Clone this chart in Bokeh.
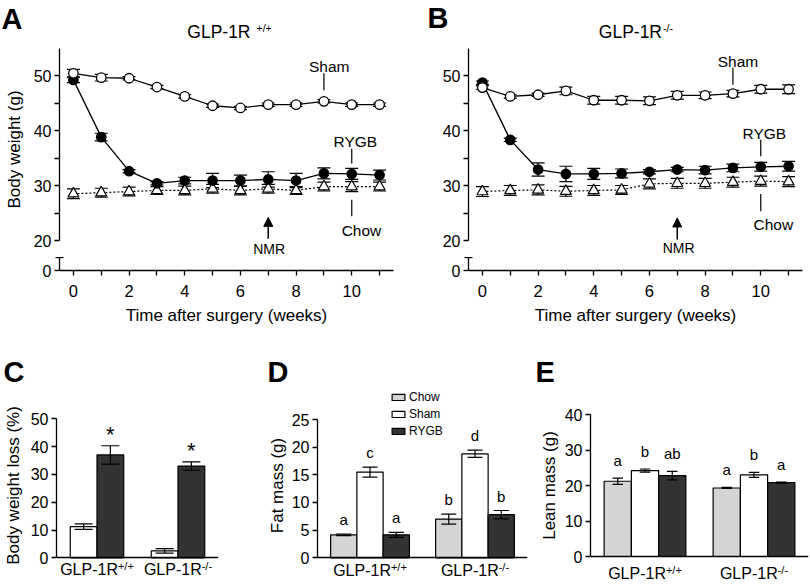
from bokeh.plotting import figure
from bokeh.layouts import column, row
from bokeh.models import (Range1d, FactorRange, FixedTicker, CustomJSTickFormatter,
                          ColumnDataSource, Whisker, TeeHead, Arrow, NormalHead,
                          LabelSet, Legend, LegendItem)
from bokeh.transform import dodge
from bokeh.core.properties import value
from bokeh.embed import file_html
from bokeh.resources import INLINE

FONT = "Liberation Sans"

# ---------------- data: panels A / B (body weight, g) ----------------
weeks = [0, 1, 2, 3, 4, 5, 6, 7, 8, 9, 10, 11]
x_major_ticks = [0, 2, 4, 6, 8, 10]
x_minor_ticks = [1, 3, 5, 7, 9, 11]
bw_major_ticks = [20, 30, 40, 50]
bw_minor_ticks = [25, 35, 45]

a_sham = [50.4, 49.6, 49.5, 47.9, 46.2, 44.5, 44.1, 44.7, 44.7, 45.3, 44.7, 44.7]
a_sham_err = [0.7, 0.6, 0.3, 0.3, 0.3, 0.3, 0.3, 0.3, 0.3, 0.3, 0.3, 0.3]
a_rygb = [49.2, 38.8, 32.6, 30.4, 30.9, 30.9, 30.9, 31.1, 30.9, 32.2, 32.1, 31.9]
a_rygb_err = [0.5, 0.7, 0.3, 0.3, 0.6, 1.3, 1.0, 1.4, 1.3, 1.0, 1.0, 0.9]
a_chow = [28.5, 28.7, 28.9, 29.1, 29.1, 29.4, 29.1, 29.4, 29.1, 29.8, 29.8, 29.8]
a_chow_err = [0.9, 0.8, 0.8, 0.7, 0.8, 0.8, 0.8, 0.8, 0.7, 0.8, 0.9, 0.8]

b_sham = [47.8, 46.2, 46.5, 47.2, 45.5, 45.5, 45.4, 46.4, 46.4, 46.7, 47.5, 47.5]
b_sham_err = [0.3, 0.3, 0.3, 0.7, 0.7, 0.7, 0.7, 0.7, 0.6, 0.6, 0.7, 0.8]
b_rygb = [48.7, 38.3, 32.9, 32.1, 32.1, 32.2, 32.5, 32.9, 32.8, 33.2, 33.4, 33.5]
b_rygb_err = [0.3, 0.3, 1.2, 1.4, 1.0, 0.8, 0.4, 0.4, 0.7, 0.7, 0.8, 0.9]
b_chow = [28.9, 29.1, 29.2, 28.95, 29.1, 29.2, 30.3, 30.4, 30.4, 30.6, 30.8, 30.7]
b_chow_err = [0.9, 0.9, 0.9, 0.9, 0.9, 0.8, 0.9, 0.9, 0.9, 0.9, 0.9, 0.9]

# call-out annotations (week, grams)
callout_names = ["Sham", "RYGB", "Chow"]
a_callout_x = [9, 10, 10]
a_callout_y0 = [47.3, 34.0, 24.4]
a_callout_y1 = [50.4, 36.7, 27.4]
a_label_x = [9.19, 10.13, 10.35]
a_label_y = [50.6, 37.0, 20.9]
a_nmr = (7, 20.3, 24.2, 7.03, 17.6)     # x, arrow tail, arrow tip, label x, label y

b_callout_x = [9, 10, 10]
b_callout_y0 = [48.3, 35.3, 25.3]
b_callout_y1 = [51.4, 38.3, 28.45]
b_label_x = [9.18, 10.13, 10.45]
b_label_y = [51.6, 38.5, 22.0]
b_nmr = (7, 20.2, 24.1, 7.05, 17.65)

# ---------------- data: panels C / D / E ----------------
groups = ["GLP-1R+/+", "GLP-1R-/-"]
cat_main = ["GLP-1R", "GLP-1R"]
cat_sup = ["+/+", "-/-"]

c_sham = [11.2, 2.5]
c_sham_err = [1.0, 0.8]
c_rygb = [37.0, 33.0]
c_rygb_err = [3.3, 1.5]
c_stars = ["*", "*"]
c_ticks = [0, 10, 20, 30, 40, 50]

d_chow = [4.15, 7.0]
d_chow_err = [0.15, 0.9]
d_sham = [15.5, 18.8]
d_sham_err = [0.9, 0.65]
d_rygb = [4.15, 7.8]
d_rygb_err = [0.45, 0.75]
d_chow_let = ["a", "b"]
d_sham_let = ["c", "d"]
d_rygb_let = ["a", "b"]
d_ticks = [0, 5, 10, 15, 20, 25]

e_chow = [21.2, 19.3]
e_chow_err = [0.9, 0.15]
e_sham = [24.2, 23.0]
e_sham_err = [0.45, 0.7]
e_rygb = [22.8, 20.8]
e_rygb_err = [1.2, 0.15]
e_chow_let = ["a", "a"]
e_sham_let = ["b", "b"]
e_rygb_let = ["ab", "a"]
e_ticks = [0, 10, 20, 30, 40]

CHOW_FILL = "#d4d4d4"
SHAM_FILL = "#ffffff"
RYGB_FILL = "#333333"

# ---------------- layout geometry (pixels) ----------------
HDR1_H, UP_H, LO_H = 41, 216, 71
HDR2_H, BAR_H = 60, 197
A_W, A_BL, A_BR = 410, 59, 17
B_W, B_BL, B_BR = 400, 58, 8
C_W, C_BL, C_BR = 262, 55, 44
D_W, D_BL, D_BR = 273, 55, 8
E_W, E_BL, E_BR = 275, 55, 2
PX_PER_G = 5.5          # panels A/B vertical scale
Y20_PAGE = 240          # page y of the 20 g tick

ARIAL_W = {"G": .778, "L": .556, "P": .667, "-": .333, "1": .556, "R": .722,
           "+": .584, "/": .278, " ": .278}


def text_w(s, size):
    return sum(ARIAL_W.get(ch, .556) for ch in s) * size


def style_axis(ax, tick_out=5, label_size="17px", standoff=3, label_standoff=5,
               tick_size="16px"):
    ax.axis_line_color = "black"
    ax.axis_line_width = 1.3
    ax.major_tick_line_color = "black"
    ax.major_tick_line_width = 1.3
    ax.minor_tick_line_color = "black"
    ax.minor_tick_line_width = 1.3
    ax.major_tick_in = 0
    ax.major_tick_out = tick_out
    ax.minor_tick_in = 0
    ax.minor_tick_out = tick_out
    ax.major_label_text_font = FONT
    ax.major_label_text_font_size = tick_size
    ax.major_label_text_color = "black"
    ax.major_label_standoff = standoff
    ax.axis_label_text_font = FONT
    ax.axis_label_text_font_size = label_size
    ax.axis_label_text_font_style = "normal"
    ax.axis_label_text_color = "black"
    ax.axis_label_standoff = label_standoff


def clean(p):
    p.grid.visible = False
    p.outline_line_color = None
    p.background_fill_color = "white"
    p.border_fill_color = "white"


def header(width, height, items):
    h = figure(width=width, height=height, x_range=Range1d(0, width),
               y_range=Range1d(height, 0), title=None, x_axis_location=None,
               y_axis_location=None, toolbar_location=None, output_backend="svg",
               min_border=0)
    clean(h)
    cols = dict(t=[], x=[], y=[], fs=[], fw=[], al=[])
    for txt, x, y, size, style, align in items:
        cols["t"].append(txt)
        cols["x"].append(x)
        cols["y"].append(y)
        cols["fs"].append(size)
        cols["fw"].append(style)
        cols["al"].append(align)
    src = ColumnDataSource(cols)
    h.add_layout(LabelSet(x="x", y="y", text="t", source=src, text_font=value(FONT),
                          text_font_size="fs", text_font_style="fw", text_align="al",
                          text_baseline="alphabetic", text_color="black"))
    return h


def line_panel(series, callouts, nmr, width, bl, br, ylabel):
    sham, sham_e, rygb, rygb_e, chow, chow_e = series
    xr = Range1d(-0.5, 11.5)
    y_top = 20 + (Y20_PAGE - HDR1_H) / PX_PER_G
    y_bot = 20 + (Y20_PAGE - HDR1_H - UP_H) / PX_PER_G
    up = figure(width=width, height=UP_H, x_range=xr, y_range=Range1d(y_bot, y_top),
                title=None, x_axis_location=None, toolbar_location=None,
                output_backend="svg", min_border_left=bl, min_border_right=br,
                min_border_top=0, min_border_bottom=0)
    clean(up)
    ya = up.yaxis[0]
    ya.bounds = (20, 55)
    ya.ticker = FixedTicker(ticks=bw_major_ticks, minor_ticks=bw_minor_ticks)
    style_axis(ya, standoff=3, label_standoff=7)
    if ylabel:
        ya.axis_label = ylabel

    d = dict(w=weeks)
    for key, v, e in (("sham", sham, sham_e), ("rygb", rygb, rygb_e), ("chow", chow, chow_e)):
        d[key] = v
        d[key + "_lo"] = [a - b for a, b in zip(v, e)]
        d[key + "_hi"] = [a + b for a, b in zip(v, e)]
    src = ColumnDataSource(d)
    for key in ("chow", "rygb", "sham"):
        up.add_layout(Whisker(source=src, base="w", upper=key + "_hi", lower=key + "_lo",
                              line_color="black", line_width=1.2,
                              upper_head=TeeHead(size=13, line_color="black", line_width=1.2),
                              lower_head=TeeHead(size=13, line_color="black", line_width=1.2)))
    up.line("w", "chow", source=src, line_color="black", line_width=1.2, line_dash="2 2")
    up.scatter("w", "chow", source=src, marker="triangle", size=11, fill_color="white",
               line_color="black", line_width=1.2)
    up.line("w", "rygb", source=src, line_color="black", line_width=1.3)
    up.scatter("w", "rygb", source=src, marker="circle", size=9.5, fill_color="black",
               line_color="black", line_width=1.2)
    up.line("w", "sham", source=src, line_color="black", line_width=1.3)
    up.scatter("w", "sham", source=src, marker="circle", size=9.5, fill_color="white",
               line_color="black", line_width=1.3)

    co_x, co_y0, co_y1, lab_x, lab_y = callouts
    cs = ColumnDataSource(dict(x=co_x, y0=co_y0, y1=co_y1))
    up.segment(x0="x", y0="y0", x1="x", y1="y1", source=cs, line_color="black",
               line_width=1.2)
    nx, ny0, ny1, nlx, nly = nmr
    ls = ColumnDataSource(dict(t=callout_names + ["NMR"], x=lab_x + [nlx], y=lab_y + [nly],
                               fs=["15.5px", "15.5px", "15.5px", "14px"]))
    up.add_layout(LabelSet(x="x", y="y", text="t", source=ls, text_align="center",
                           text_baseline="alphabetic", text_font=value(FONT),
                           text_font_size="fs", text_color="black"))
    up.add_layout(Arrow(end=NormalHead(size=9, fill_color="black", line_color="black",
                                       line_width=1),
                        x_start=nx, y_start=ny0, x_end=nx, y_end=ny1,
                        line_color="black", line_width=1.5))

    lo = figure(width=width, height=LO_H, x_range=xr, y_range=Range1d(0, 13),
                title=None, toolbar_location=None, output_backend="svg",
                min_border_left=bl, min_border_right=br, min_border_top=0,
                min_border_bottom=LO_H - 13)
    clean(lo)
    la = lo.yaxis[0]
    la.bounds = (0, 12.6)
    la.ticker = FixedTicker(ticks=[0], minor_ticks=[12.6])
    la.formatter = CustomJSTickFormatter(code="return '0';")
    style_axis(la, standoff=3)
    la.minor_tick_in = 4
    la.minor_tick_out = 4
    xa = lo.xaxis[0]
    xa.ticker = FixedTicker(ticks=x_major_ticks, minor_ticks=x_minor_ticks)
    style_axis(xa, standoff=9, label_standoff=6, tick_size="16.5px")
    xa.axis_label = "Time after surgery (weeks)"
    return column(up, lo)


BAR_TOP_PAGE = HDR1_H + UP_H + LO_H + HDR2_H
BAR_FRAME_BOTTOM_PAGE = BAR_TOP_PAGE + BAR_H - 3


def bar_panel(ylabel, ymax, yticks, zero_page, top_page, series, bar_w, offsets, cap,
              width, bl, br, cat_dy, letter_up, label_standoff, stars=None,
              legend_loc=None):
    scale = (zero_page - top_page) / ymax
    y_hi = (zero_page - BAR_TOP_PAGE) / scale
    y_lo = -(BAR_FRAME_BOTTOM_PAGE - zero_page) / scale
    p = figure(width=width, height=BAR_H, x_range=FactorRange(*groups),
               y_range=Range1d(y_lo, y_hi), title=None, toolbar_location=None,
               output_backend="svg", min_border_left=bl, min_border_right=br,
               min_border_top=0, min_border_bottom=3)
    clean(p)
    ya = p.yaxis[0]
    ya.bounds = (0, ymax)
    ya.ticker = FixedTicker(ticks=yticks)
    style_axis(ya, standoff=3, label_standoff=label_standoff)
    ya.axis_label = ylabel
    xa = p.xaxis[0]
    style_axis(xa)
    xa.fixed_location = 0
    xa.major_tick_line_color = None
    xa.major_tick_out = 0
    xa.major_label_text_color = None
    xa.major_label_text_font_size = "1px"
    xa.major_label_standoff = 0

    items = []
    for (name, vals, errs, fill, lets), off in zip(series, offsets):
        src = ColumnDataSource(dict(g=groups, v=vals,
                                    lo=[a - b for a, b in zip(vals, errs)],
                                    hi=[a + b for a, b in zip(vals, errs)],
                                    let=lets if lets else ["", ""],
                                    star=stars if (stars and name == "RYGB") else ["", ""]))
        xs = dodge("g", off, range=p.x_range)
        r = p.vbar(x=xs, top="v", width=bar_w, source=src, fill_color=fill,
                   line_color="black", line_width=1.2)
        items.append(LegendItem(label=name, renderers=[r]))
        p.add_layout(Whisker(source=src, base=xs, upper="hi", lower="lo", level="overlay",
                             line_color="black", line_width=1.2,
                             upper_head=TeeHead(size=cap, line_color="black", line_width=1.2),
                             lower_head=TeeHead(size=cap, line_color="black", line_width=1.2)))
        if lets:
            p.add_layout(LabelSet(x=xs, y="hi", text="let", source=src, y_offset=letter_up,
                                  text_align="center", text_baseline="alphabetic",
                                  text_font=value(FONT), text_font_size="15px",
                                  text_color="black"))
        if stars and name == "RYGB":
            p.add_layout(LabelSet(x=xs, y="hi", text="star", source=src, y_offset=4,
                                  text_align="center", text_baseline="alphabetic",
                                  text_font=value(FONT), text_font_size="22px",
                                  text_color="black"))

    # category labels with superscripts
    mw = text_w("GLP-1R", 16)
    sw = [text_w(s, 11) for s in cat_sup]
    cat_src = ColumnDataSource(dict(g=groups, main=cat_main, sup=cat_sup,
                                    dx=[(mw - w) / 2 for w in sw]))
    p.add_layout(LabelSet(x="g", y=0, text="main", source=cat_src, x_offset="dx",
                          y_offset=-cat_dy, text_align="right", text_baseline="alphabetic",
                          text_font=value(FONT), text_font_size="16px", text_color="black"))
    p.add_layout(LabelSet(x="g", y=0, text="sup", source=cat_src, x_offset="dx",
                          y_offset=-cat_dy + 5, text_align="left", text_baseline="alphabetic",
                          text_font=value(FONT), text_font_size="11px", text_color="black"))
    if legend_loc is not None:
        p.add_layout(Legend(items=items, location=legend_loc, orientation="vertical",
                            border_line_color=None, background_fill_alpha=0, padding=0,
                            margin=0, spacing=0, glyph_width=16, glyph_height=8,
                            label_height=17, label_standoff=3, label_text_font=FONT,
                            label_text_font_size="12px", label_text_color="black"))
    return p


# ---------------- headers (panel letters and titles) ----------------
A_FL = A_BL
B_FL = A_W + B_BL
hdr1 = header(A_W + B_W, HDR1_H, [
    ("A", A_FL - 58, 28, "29px", "bold", "left"),
    ("GLP-1R", A_FL + 191, 37, "17.5px", "normal", "right"),
    ("+/+", A_FL + 197, 31, "10.5px", "normal", "left"),
    ("B", B_FL - 41, 27.5, "29px", "bold", "left"),
    ("GLP-1R", B_FL + 193.5, 37, "17.5px", "normal", "right"),
    ("-/-", B_FL + 194.5, 31, "10.5px", "normal", "left"),
])
C_FL = C_BL
D_FL = C_W + D_BL
E_FL = C_W + D_W + E_BL
hdr2 = header(C_W + D_W + E_W, HDR2_H, [
    ("C", C_FL - 52, HDR2_H - 7, "29px", "bold", "left"),
    ("D", D_FL - 50, HDR2_H - 7, "29px", "bold", "left"),
    ("E", E_FL - 55, HDR2_H - 7, "29px", "bold", "left"),
])

panel_a = line_panel((a_sham, a_sham_err, a_rygb, a_rygb_err, a_chow, a_chow_err),
                     (a_callout_x, a_callout_y0, a_callout_y1, a_label_x, a_label_y),
                     a_nmr, A_W, A_BL, A_BR, "Body weight (g)")
panel_b = line_panel((b_sham, b_sham_err, b_rygb, b_rygb_err, b_chow, b_chow_err),
                     (b_callout_x, b_callout_y0, b_callout_y1, b_label_x, b_label_y),
                     b_nmr, B_W, B_BL, B_BR, None)

panel_c = bar_panel("Body weight loss (%)", 50, c_ticks, 557.3, 418.3,
                    [("Sham", c_sham, c_sham_err, SHAM_FILL, None),
                     ("RYGB", c_rygb, c_rygb_err, RYGB_FILL, None)],
                    0.33, [-0.165, 0.165], 18, C_W, C_BL, C_BR, 17, 9, 5, stars=c_stars)
panel_d = bar_panel("Fat mass (g)", 25, d_ticks, 557.3, 419.0,
                    [("Chow", d_chow, d_chow_err, CHOW_FILL, d_chow_let),
                     ("Sham", d_sham, d_sham_err, SHAM_FILL, d_sham_let),
                     ("RYGB", d_rygb, d_rygb_err, RYGB_FILL, d_rygb_let)],
                    0.25, [-0.25, 0, 0.25], 15, D_W, D_BL, D_BR, 18, 9, 2,
                    legend_loc=(73, BAR_H - 3 - 51))
panel_e = bar_panel("Lean mass (g)", 40, e_ticks, 556.0, 414.0,
                    [("Chow", e_chow, e_chow_err, CHOW_FILL, e_chow_let),
                     ("Sham", e_sham, e_sham_err, SHAM_FILL, e_sham_let),
                     ("RYGB", e_rygb, e_rygb_err, RYGB_FILL, e_rygb_let)],
                    0.25, [-0.25, 0, 0.25], 10.5, E_W, E_BL, E_BR, 22, 12, 3)

layout = column(hdr1, row(panel_a, panel_b), hdr2, row(panel_c, panel_d, panel_e))
open("out.html", "w").write(file_html(layout, INLINE))
